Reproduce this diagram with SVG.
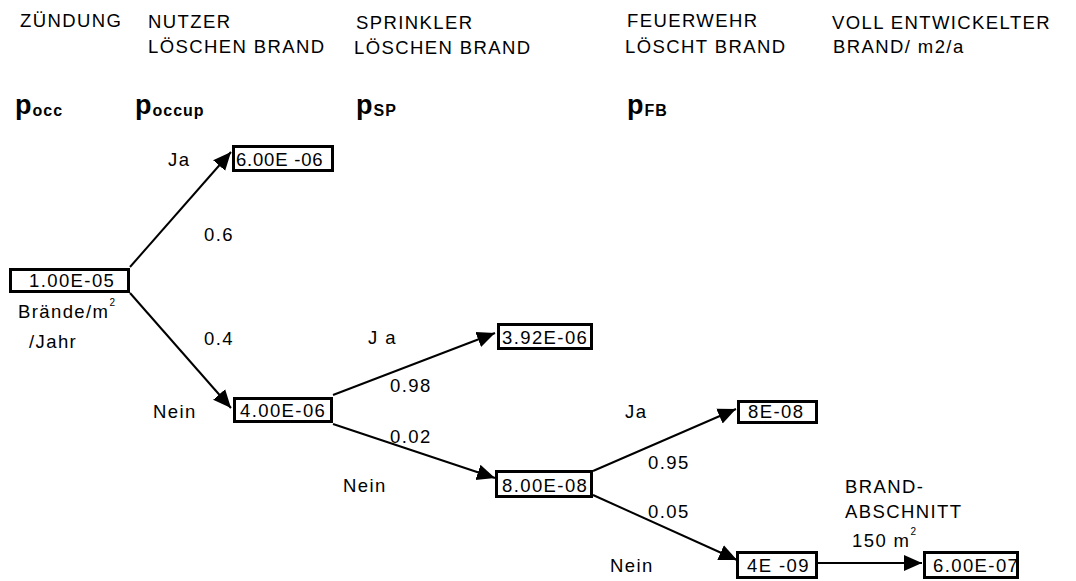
<svg xmlns="http://www.w3.org/2000/svg" width="1076" height="581" viewBox="0 0 1076 581">
<style>
text{font-family:"Liberation Sans",Arial,sans-serif;font-size:18.5px;letter-spacing:1.4px;fill:#000}
.p{font-weight:bold;font-size:27px;letter-spacing:0}
.s{font-weight:bold;font-size:16px;letter-spacing:1px}
.sup{font-size:10px;letter-spacing:0}
.tight{letter-spacing:0.8px}
.box{fill:#fff;stroke:#000;stroke-width:3}
.ln{stroke:#000;stroke-width:2;fill:none;marker-end:url(#ah)}
</style>
<defs>
<marker id="ah" markerUnits="userSpaceOnUse" markerWidth="18" markerHeight="18" viewBox="0 0 18 18" refX="18" refY="9" orient="auto">
<path d="M0,1 L18,9 L0,17 Z" fill="#000"/>
</marker>
</defs>
<rect width="1076" height="581" fill="#fff"/>
<g id="headers">
<text x="20" y="27">ZÜNDUNG</text>
<text x="148" y="28">NUTZER</text>
<text x="148" y="53">LÖSCHEN BRAND</text>
<text x="356" y="29">SPRINKLER</text>
<text x="354" y="54">LÖSCHEN BRAND</text>
<text x="627" y="27">FEUERWEHR</text>
<text x="625" y="53">LÖSCHT BRAND</text>
<text x="832" y="29">VOLL ENTWICKELTER</text>
<text x="833" y="53">BRAND/ m2/a</text>
<text class="p" x="15" y="114">p<tspan class="s" dx="1" dy="2">occ</tspan></text>
<text class="p" x="135" y="114">p<tspan class="s" dx="1" dy="2">occup</tspan></text>
<text class="p" x="356" y="114">p<tspan class="s" dx="1" dy="2">SP</tspan></text>
<text class="p" x="627" y="114">p<tspan class="s" dx="1" dy="2">FB</tspan></text>
</g>
<g id="connectors">
<line class="ln" x1="130" y1="267" x2="231" y2="152"/>
<line class="ln" x1="130" y1="293" x2="231" y2="408"/>
<line class="ln" x1="333" y1="395" x2="495" y2="333"/>
<line class="ln" x1="333" y1="424" x2="495" y2="478"/>
<line class="ln" x1="593" y1="471" x2="736" y2="409"/>
<line class="ln" x1="593" y1="495" x2="737" y2="560"/>
<line class="ln" x1="818" y1="563" x2="922" y2="563"/>
</g>
<g id="labels">
<text x="168" y="166">Ja</text>
<text x="204" y="241">0.6</text>
<text x="204" y="345">0.4</text>
<text x="18" y="318">Brände/m<tspan class="sup" dy="-12">2</tspan></text>
<text x="29" y="348">/Jahr</text>
<text x="153" y="418">Nein</text>
<text x="368" y="344">J a</text>
<text x="390" y="392">0.98</text>
<text x="390" y="443">0.02</text>
<text x="343" y="492">Nein</text>
<text x="625" y="418">Ja</text>
<text x="648" y="469">0.95</text>
<text x="648" y="518">0.05</text>
<text x="610" y="572">Nein</text>
<text x="845" y="493">BRAND-</text>
<text x="845" y="518">ABSCHNITT</text>
<text x="852" y="547">150 m<tspan class="sup" dy="-12">2</tspan></text>
</g>
<g id="n1"><rect class="box" x="10.5" y="269.5" width="118" height="22"/><text x="29" y="287">1.00E-05</text></g>
<g id="n2"><rect class="box" x="233.5" y="146.5" width="99" height="24"/><text class="tight" x="236" y="166">6.00E -06</text></g>
<g id="n3"><rect class="box" x="234.5" y="398.5" width="97" height="23"/><text x="240" y="417">4.00E-06</text></g>
<g id="n4"><rect class="box" x="498.5" y="324.5" width="93" height="24"/><text x="502" y="344">3.92E-06</text></g>
<g id="n5"><rect class="box" x="496.5" y="471.5" width="95" height="25"/><text x="502" y="492">8.00E-08</text></g>
<g id="n6"><rect class="box" x="738.5" y="401.5" width="78" height="21"/><text x="748" y="418">8E-08</text></g>
<g id="n7"><rect class="box" x="737.5" y="552.5" width="79" height="25"/><text x="747" y="572">4E -09</text></g>
<g id="n8"><rect class="box" x="924.5" y="552.5" width="93" height="25"/><text x="933" y="572">6.00E-07</text></g>
</svg>
